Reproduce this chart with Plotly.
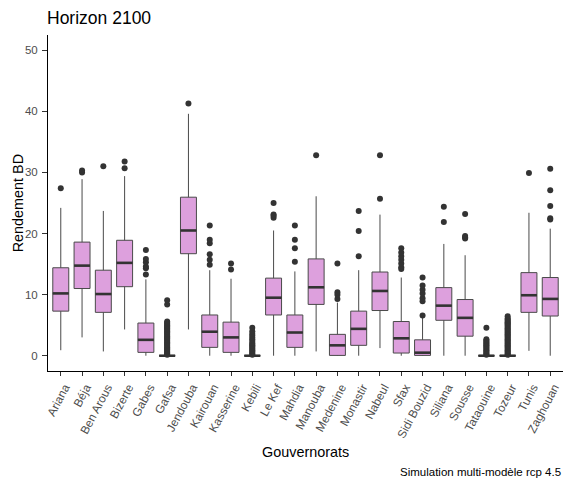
import plotly.graph_objects as go

# Governorates and box-plot statistics (yield, Horizon 2100)
gouvernorats = ["Ariana", "Béja", "Ben Arous", "Bizerte", "Gabes", "Gafsa", "Jendouba",
                "Kairouan", "Kasserine", "Kebili", "Le Kef", "Mahdia", "Manouba", "Medenine",
                "Monastir", "Nabeul", "Sfax", "Sidi Bouzid", "Siliana", "Sousse", "Tataouine",
                "Tozeur", "Tunis", "Zaghouan"]
whisker_low = [0.9, 3.0, 0.7, 4.3, 0.0, 0.0, 4.3, 0.0, 0.0, 0.0, 0.0, 0.0, 0.7, 0.0,
               0.0, 1.25, 0.0, 0.0, 0.0, 0.0, 0.0, 0.0, 0.8, 0.0]
q1 = [7.3, 11.0, 7.1, 11.3, 0.55, 0.0, 16.7, 1.37, 0.55, 0.0, 6.67, 1.37, 8.4, 0.05,
      1.7, 7.4, 0.44, 0.05, 5.8, 3.2, 0.0, 0.0, 7.1, 6.5]
median = [10.2, 14.75, 10.1, 15.2, 2.6, 0.0, 20.5, 3.93, 3.0, 0.0, 9.5, 3.8, 11.2, 1.7,
          4.4, 10.6, 2.85, 0.5, 8.2, 6.2, 0.0, 0.0, 9.9, 9.3]
q3 = [14.4, 18.6, 14.0, 18.9, 5.35, 0.0, 25.95, 6.67, 5.5, 0.0, 12.7, 6.67, 15.85, 3.5,
      7.3, 13.7, 5.6, 2.6, 11.15, 9.2, 0.0, 0.0, 13.6, 12.8]
whisker_high = [24.2, 28.9, 23.7, 29.4, 12.5, 0.0, 39.6, 14.0, 12.6, 0.0, 20.5, 13.8, 26.1, 8.7,
                14.0, 23.1, 12.8, 6.2, 18.3, 16.45, 0.0, 0.0, 23.4, 20.8]
outliers = [
    [27.4],
    [30.0, 30.3],
    [31.0],
    [30.7, 31.8],
    [13.3, 14.3, 14.6, 15.3, 15.85, 17.3],
    [0.15, 0.3, 0.45, 0.6, 0.8, 1.0, 1.2, 1.4, 1.6, 1.8, 2.0, 2.2, 2.4, 2.6, 2.8, 3.0,
     3.2, 3.4, 3.6, 3.8, 4.0, 4.2, 4.4, 4.6, 4.8, 5.0, 5.2, 5.4, 5.6, 8.4, 9.1],
    [41.3],
    [14.9, 15.7, 16.6, 18.4, 19.0, 21.3],
    [14.1, 15.1],
    [0.15, 0.3, 0.5, 0.7, 0.9, 1.1, 1.3, 1.5, 1.7, 1.9, 2.1, 2.4, 2.7, 3.0, 3.3, 3.6, 4.0, 4.6],
    [22.6, 22.9, 23.1, 25.0],
    [15.4, 17.6, 19.0, 21.3],
    [32.8],
    [9.3, 10.0, 10.4, 15.1],
    [16.3, 20.4, 23.7],
    [25.7, 32.8],
    [14.2, 14.5, 15.1, 15.7, 16.3, 16.9, 17.6],
    [6.6, 8.9, 9.4, 10.2, 10.8, 11.5, 12.8],
    [21.9, 24.4],
    [19.2, 19.4, 19.6, 23.2],
    [0.15, 0.3, 0.5, 0.7, 0.9, 1.1, 1.3, 1.5, 1.7, 1.9, 2.1, 2.3, 2.5, 2.7, 4.6],
    [0.15, 0.3, 0.5, 0.7, 0.9, 1.1, 1.3, 1.5, 1.7, 1.9, 2.1, 2.3, 2.5, 2.7, 2.9, 3.1,
     3.3, 3.5, 3.7, 3.9, 4.1, 4.3, 4.5, 4.7, 4.9, 5.1, 5.3, 5.5, 5.7, 5.9, 6.1, 6.45],
    [29.9],
    [22.3, 22.5, 24.5, 27.1, 30.6],
]
y_ticks = [0, 10, 20, 30, 40, 50]

FILL = "#DDA0DD"
DARK = "#333333"
BOX_W = 0.75

fig = go.Figure()
positions = list(range(1, len(gouvernorats) + 1))

for i, name in enumerate(gouvernorats):
    fig.add_trace(go.Box(
        x=[positions[i]], q1=[q1[i]], median=[median[i]], q3=[q3[i]],
        lowerfence=[whisker_low[i]], upperfence=[whisker_high[i]],
        width=BOX_W, whiskerwidth=0, fillcolor=FILL,
        line=dict(color="#4a4a4a", width=1), boxpoints=False,
        name=name, showlegend=False, hoverinfo="skip",
    ))

# thicker median bars
mx, my = [], []
for i in range(len(gouvernorats)):
    mx += [positions[i] - BOX_W / 2, positions[i] + BOX_W / 2, None]
    my += [median[i], median[i], None]
fig.add_trace(go.Scatter(x=mx, y=my, mode="lines", line=dict(color=DARK, width=2.6),
                         showlegend=False, hoverinfo="skip"))

# outlying points
ox, oy = [], []
for i, vals in enumerate(outliers):
    ox += [positions[i]] * len(vals)
    oy += vals
fig.add_trace(go.Scatter(x=ox, y=oy, mode="markers",
                         marker=dict(color=DARK, size=6, line=dict(width=0)),
                         showlegend=False, hoverinfo="skip"))

font_family = "Liberation Sans, Arial, sans-serif"
fig.update_layout(
    width=565, height=483,
    margin=dict(l=48, r=2, t=35, b=112),
    paper_bgcolor="white", plot_bgcolor="white",
    font=dict(family=font_family, color="black"),
    title=dict(text="Horizon 2100", font=dict(size=17.5, color="black"),
               xref="container", x=47 / 565, xanchor="left",
               yref="container", y=1 - 17.5 / 483, yanchor="middle"),
    xaxis=dict(range=[0.4, len(gouvernorats) + 0.6], tickmode="array",
               tickvals=positions, ticktext=gouvernorats, tickangle=-62,
               tickfont=dict(size=11.8, color="#4D4D4D"),
               ticks="outside", ticklen=4, tickcolor=DARK, ticklabelshift=4,
               showline=True, linecolor="black", linewidth=1,
               showgrid=False, zeroline=False),
    yaxis=dict(range=[-2.5, 52.5], tickmode="array", tickvals=y_ticks,
               tickfont=dict(size=11.5, color="#4D4D4D"),
               ticks="outside", ticklen=5, tickcolor=DARK, ticklabelstandoff=2,
               showline=True, linecolor="black", linewidth=1,
               showgrid=False, zeroline=False),
    annotations=[
        dict(text="Gouvernorats", xref="paper", yref="paper", x=0.5, y=-0.241,
             xanchor="center", yanchor="middle", showarrow=False,
             font=dict(size=14.4, color="black")),
        dict(text="Rendement BD", xref="paper", yref="paper", x=-0.0576, y=0.5,
             xanchor="center", yanchor="middle", textangle=-90, showarrow=False,
             font=dict(size=14.4, color="black")),
        dict(text="Simulation multi-modèle rcp 4.5", xref="paper", yref="paper",
             x=1.0, y=-0.2997, xanchor="right", yanchor="middle", showarrow=False,
             font=dict(size=11.5, color="black")),
    ],
)

fig.write_html("out.html")
